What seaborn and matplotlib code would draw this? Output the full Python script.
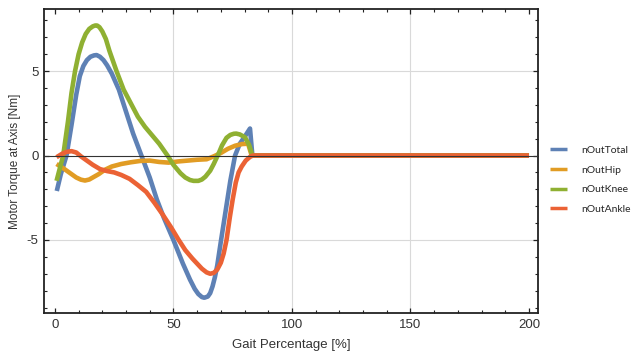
import matplotlib
matplotlib.use("Agg")
import matplotlib.pyplot as plt
from matplotlib.ticker import MultipleLocator
import seaborn as sns
import pandas as pd

series_names = ["nOutTotal", "nOutHip", "nOutKnee", "nOutAnkle"]

total_x = [0.8, 2.5, 4.9, 7, 9, 10.5, 12, 13.5, 15, 16.5, 17.6, 19, 20.5, 22, 24, 27, 30, 33, 36.5, 40, 43, 46, 50, 54, 57, 59, 60.5, 62, 63, 64.5, 65.5, 66.5, 67.5, 68.5, 70, 72, 74, 76, 78, 80, 82.3, 83.3, 200]
total_y = [-2.1, -1.1, 0.0, 1.8, 3.6, 4.7, 5.3, 5.65, 5.85, 5.93, 5.95, 5.85, 5.65, 5.35, 4.85, 3.9, 2.6, 1.3, 0.0, -1.3, -2.6, -3.7, -5.0, -6.4, -7.35, -7.9, -8.2, -8.38, -8.42, -8.35, -8.15, -7.75, -7.2, -6.5, -5.1, -3.3, -1.5, 0.0, 0.7, 1.1, 1.6, 0.0, 0.0]

hip_x = [0.7, 3, 6, 9, 11, 12.7, 14.5, 16, 18.5, 21, 24, 28, 32, 36, 40, 44, 48, 52, 56, 60, 64, 67, 70, 73, 76, 79, 81.5, 83, 200]
hip_y = [-0.5, -0.7, -1.0, -1.3, -1.43, -1.48, -1.42, -1.3, -1.1, -0.85, -0.65, -0.5, -0.4, -0.32, -0.3, -0.38, -0.42, -0.35, -0.3, -0.25, -0.22, -0.05, 0.15, 0.4, 0.58, 0.68, 0.7, 0.0, 0.0]

knee_x = [0.7, 2, 3.5, 5.5, 7, 8.5, 10, 11.5, 13, 14.5, 16, 17, 17.8, 18.8, 20, 21.5, 23, 26, 29, 32, 35, 38, 41, 44, 46, 48, 50, 53, 55, 57, 58.5, 60.5, 62, 63.5, 65.5, 67, 69, 70.5, 72.4, 74, 75.5, 76.5, 78, 80.2, 82, 83.3, 200]
knee_y = [-1.5, -0.8, 0.0, 2.0, 3.7, 5.0, 6.0, 6.7, 7.2, 7.5, 7.65, 7.7, 7.7, 7.6, 7.35, 6.9, 6.2, 5.0, 3.9, 3.1, 2.3, 1.7, 1.2, 0.7, 0.3, -0.1, -0.55, -1.05, -1.3, -1.45, -1.5, -1.5, -1.42, -1.25, -0.9, -0.5, 0.1, 0.6, 1.05, 1.22, 1.29, 1.3, 1.25, 1.08, 0.6, 0.0, 0.0]

ankle_x = [0.7, 3, 5, 7, 9, 11, 13.5, 16, 19, 22, 25, 28, 31.5, 35, 38.5, 42, 45.5, 49, 52, 55, 58, 60, 62, 64, 65.5, 67, 68.5, 70, 71.2, 72.4, 73.8, 75, 76.3, 77.5, 78.8, 80.5, 82.3, 83.5, 200]
ankle_y = [-0.1, 0.1, 0.22, 0.26, 0.18, -0.05, -0.3, -0.55, -0.8, -0.92, -1.0, -1.15, -1.38, -1.75, -2.15, -2.8, -3.5, -4.25, -4.95, -5.6, -6.1, -6.4, -6.7, -6.92, -7.0, -6.95, -6.75, -6.35, -5.8, -5.0, -3.65, -2.6, -1.6, -1.0, -0.65, -0.3, -0.08, 0.0, 0.0]

x_ticks = [0, 50, 100, 150, 200]
y_ticks = [-5, 0, 5]
x_label = "Gait Percentage [%]"
y_label = "Motor Torque at Axis [Nm]"

colors = ["#5E81B5", "#E19C24", "#8FB032", "#EB6235"]

frames = []
for name, xs, ys in zip(series_names,
                        [total_x, hip_x, knee_x, ankle_x],
                        [total_y, hip_y, knee_y, ankle_y]):
    frames.append(pd.DataFrame({"x": xs, "y": ys, "series": name}))
df = pd.concat(frames, ignore_index=True)

sns.set_style("white")
plt.rcParams["font.family"] = ["Liberation Sans", "DejaVu Sans"]

fig = plt.figure(figsize=(6.32, 3.51), dpi=100)
ax = fig.add_axes([0.0696, 0.108, 0.7817, 0.866])

sns.lineplot(data=df, x="x", y="y", hue="series", hue_order=series_names,
             palette=colors, sort=False, estimator=None, linewidth=3.3,
             ax=ax, legend=True)
for ln in ax.lines:
    ln.set_solid_capstyle("butt")
    ln.set_solid_joinstyle("round")

ax.axhline(0, color="#333333", lw=0.8, zorder=5)
for gx in [50, 100, 150]:
    ax.axvline(gx, color="#d9d9d9", lw=0.8, zorder=0)
for gy in [-5, 5]:
    ax.axhline(gy, color="#d9d9d9", lw=0.8, zorder=0)

ax.set_xlim(-4.6, 203.8)
ax.set_ylim(-9.33, 8.67)
ax.set_xticks(x_ticks)
ax.set_yticks(y_ticks)
ax.set_yticklabels(["-5", "0", "5"])
ax.xaxis.set_minor_locator(MultipleLocator(10))
ax.yaxis.set_minor_locator(MultipleLocator(1))
ax.tick_params(which="both", direction="in", top=True, right=True,
               bottom=True, left=True, color="#222222")
ax.tick_params(which="major", length=3.5, width=0.9, labelsize=9.5,
               labelcolor="#333333", pad=4)
ax.tick_params(which="minor", length=2, width=0.8)
for sp in ax.spines.values():
    sp.set_color("#222222")
    sp.set_linewidth(1.3)

ax.set_xlabel(x_label, fontsize=9.5, color="#333333", labelpad=6)
ax.set_ylabel(y_label, fontsize=8.5, color="#333333", labelpad=4)

handles, labels = ax.get_legend_handles_labels()
leg = ax.legend(handles, labels, loc="upper left", bbox_to_anchor=(1.01, 0.575),
                frameon=False, handlelength=1.6, handletextpad=1.35,
                labelspacing=1.0, borderaxespad=0.3,
                prop={"family": ["Lato", "DejaVu Sans"], "size": 7.5})
for h in leg.get_lines():
    h.set_linewidth(2.5)

fig.savefig("out.png", dpi=100, facecolor="white")
